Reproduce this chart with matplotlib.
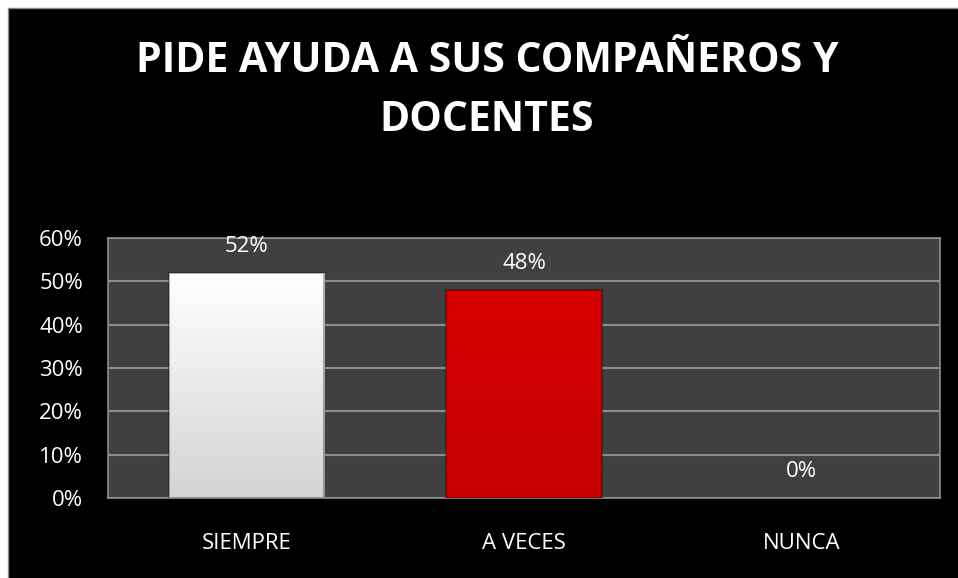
import matplotlib
matplotlib.use("Agg")
import matplotlib.pyplot as plt
import numpy as np
from matplotlib.patches import Rectangle
from matplotlib.lines import Line2D

categories = ["SIEMPRE", "A VECES", "NUNCA"]
values = [52, 48, 0]
labels = ["52%", "48%", "0%"]
yticks = [0, 10, 20, 30, 40, 50, 60]
ytick_labels = ["0%", "10%", "20%", "30%", "40%", "50%", "60%"]
title = "PIDE AYUDA A SUS COMPAÑEROS Y\nDOCENTES"

bar_colors = ["#eeeeee", "#cc0000"]

plt.rcParams['font.family'] = ['Open Sans', 'DejaVu Sans']

fig = plt.figure(figsize=(9.58, 5.78), dpi=100)
fig.patch.set_facecolor("white")
# black chart area with a thin white margin on the top/left
bg = Rectangle((8/958, 0), 1, 1 - 8/578, transform=fig.transFigure,
               facecolor="black", edgecolor="none", zorder=-10)
fig.patches.append(bg)
fig.lines.append(Line2D([8/958, 8/958, 1], [0, 1 - 8/578, 1 - 8/578],
                        transform=fig.transFigure, color="#888888", linewidth=1,
                        zorder=-9))

ax = fig.add_axes([108/958, 1 - 498/578, (940-108)/958, (498-238)/578])
ax.set_zorder(5)
ax.set_facecolor("#404040")
x = np.arange(len(categories))
bars = ax.bar(x, values, width=0.56, color=bar_colors + ["#888888"], zorder=3,
              edgecolor="none")

# gradients to mimic bevel
grad_specs = [("#ffffff", "#d4d4d4"), ("#d80000", "#c60000")]
for b, (c1, c2) in zip(bars[:2], grad_specs):
    x0, y0 = b.get_x(), b.get_y()
    w, h = b.get_width(), b.get_height()
    c1 = np.array(matplotlib.colors.to_rgb(c1))
    c2 = np.array(matplotlib.colors.to_rgb(c2))
    t = np.linspace(0, 1, 100)[:, None]
    img = (c1 * (1 - t) + c2 * t)[:, None, :].repeat(2, axis=1)
    im = ax.imshow(img, extent=(x0, x0 + w, y0, y0 + h), aspect="auto", zorder=4,
                   origin="upper")
    im.set_clip_path(b)
    ax.add_patch(Rectangle((x0, y0), w, h, fill=False, edgecolor=(0, 0, 0, 0.3),
                           linewidth=1.5, zorder=5))

for xi, v, lab in zip(x, values, labels):
    ax.annotate(lab, (xi, v), xytext=(0, 19), textcoords="offset points",
                ha="center", va="center", color="white", fontsize=16)

ax.set_xlim(-0.5, 2.5)
ax.set_ylim(0, 60)
ax.set_yticks(yticks)
ax.set_yticklabels(ytick_labels)
ax.set_xticks(x)
ax.set_xticklabels(categories)
ax.tick_params(axis="both", length=0, colors="white", labelsize=16)
ax.tick_params(axis="x", pad=25)
ax.tick_params(axis="y", pad=18)
ax.yaxis.grid(True, color="#8c8c8c", linewidth=1.5, zorder=1)
ax.set_axisbelow(True)
for s in ax.spines.values():
    s.set_color("#8c8c8c")
    s.set_linewidth(1.2)

fig.text(487/958, 1 - 91/578, title, ha="center", va="center", color="white",
         fontsize=29.5, fontweight="bold", linespacing=1.6)

fig.savefig("out.png", dpi=100, facecolor=fig.get_facecolor())
